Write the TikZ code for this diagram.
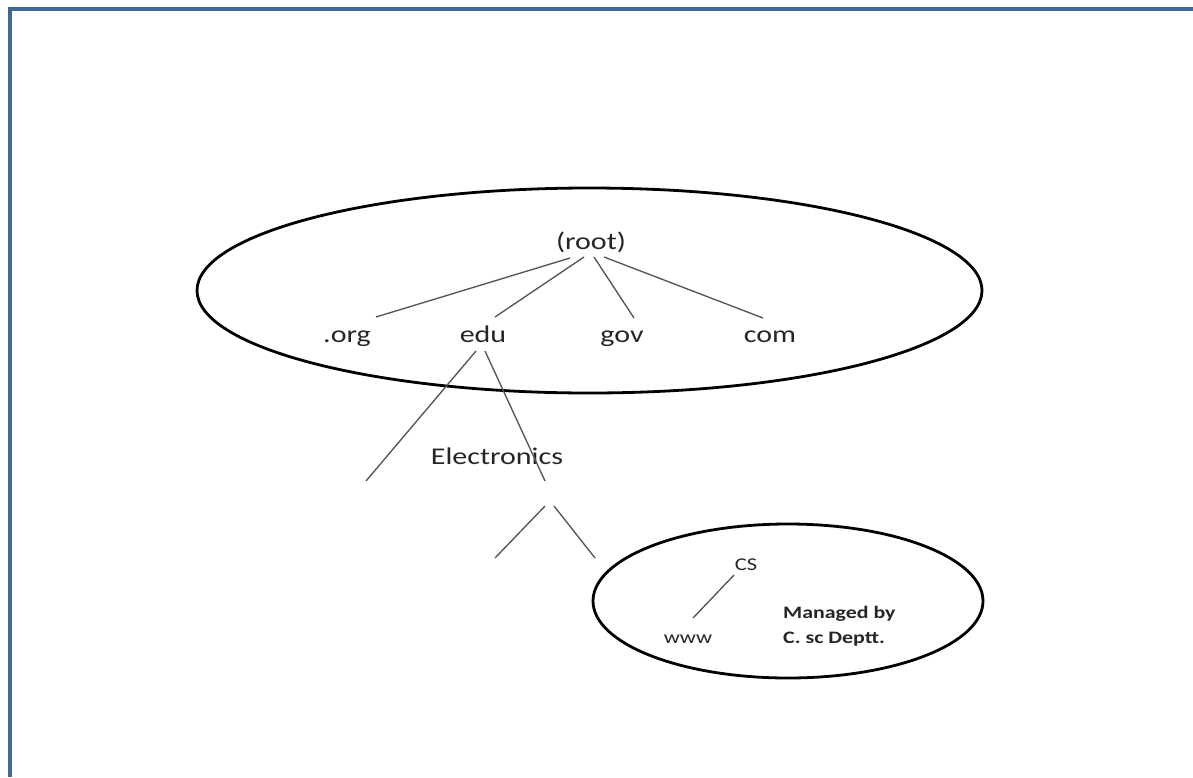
\documentclass[tikz,border=0pt]{standalone}
\usepackage{fontspec}
\setmainfont[FakeStretch=1.25]{Carlito}
\usetikzlibrary{calc}
\definecolor{framecol}{RGB}{65,104,153}
\definecolor{txtcol}{RGB}{38,38,38}
\definecolor{branchcol}{RGB}{85,85,85}

\begin{document}
\begin{tikzpicture}[x=1pt,y=-1pt,
		big/.style={anchor=base,inner sep=0pt,text=txtcol,font=\fontsize{24}{28}\selectfont},
		small/.style={anchor=base,inner sep=0pt,text=txtcol,font=\fontsize{18}{21}\selectfont},
		note/.style={anchor=base west,inner sep=0pt,text=txtcol,font=\fontsize{17.5}{21}\selectfont\bfseries},
		branch/.style={draw=branchcol,line width=1.35pt},
		zone/.style={draw=black,line width=2.8pt}]
		\useasboundingbox (0,0) rectangle (1193,777);
		\draw[framecol, line width=4pt] (9.5,777) -- (9.5,8.8) -- (1193,8.8);
% zones
\draw[zone] (589.5,290.5) ellipse [x radius=392.5pt, y radius=102.5pt];
\draw[zone] (788,601) ellipse [x radius=195pt, y radius=77pt];
% labels
\node[big] (root) at (591, 249) {(root)};
\node[big] (org) at (347, 342) {.org};
\node[big] (edu) at (483, 342) {edu};
\node[big] (gov) at (622, 342) {gov};
\node[big] (com) at (770, 342) {com};
\node[big] (elec) at (497, 464) {Electronics};
\node[small] (cs) at (746, 570) {CS};
\node[small] (www) at (688, 643) {www};
\node[note] (mgr1) at (783, 618) {Managed by};
\node[note] (mgr2) at (783, 643) {C. sc Deptt.};
% free ends
\coordinate (eduleft) at (366, 481);
\coordinate (eduright) at (545, 481);
\coordinate (vtopl) at (545, 506);
\coordinate (vtopr) at (554, 506);
\coordinate (vl) at (495, 558);
\coordinate (vr) at (595, 558);
% branches
\draw[branch] ($(root.base)+(-21,9)$) -- ($(org.base)+(29,-25)$);
\draw[branch] ($(root.base)+(-7,8)$) -- ($(edu.base)+(12,-25)$);
\draw[branch] ($(root.base)+(3,8)$) -- ($(gov.base)+(12,-24)$);
\draw[branch] ($(root.base)+(13,8)$) -- ($(com.base)+(-7,-24)$);
\draw[branch] ($(edu.base)+(-7,9)$) -- (eduleft);
\draw[branch] ($(edu.base)+(2,9)$) -- (eduright);
\draw[branch] (vtopl) -- (vl);
\draw[branch] (vtopr) -- (vr);
\draw[branch] ($(cs.base)+(-12,5)$) -- ($(www.base)+(5,-25)$);
\end{tikzpicture}
\end{document}
